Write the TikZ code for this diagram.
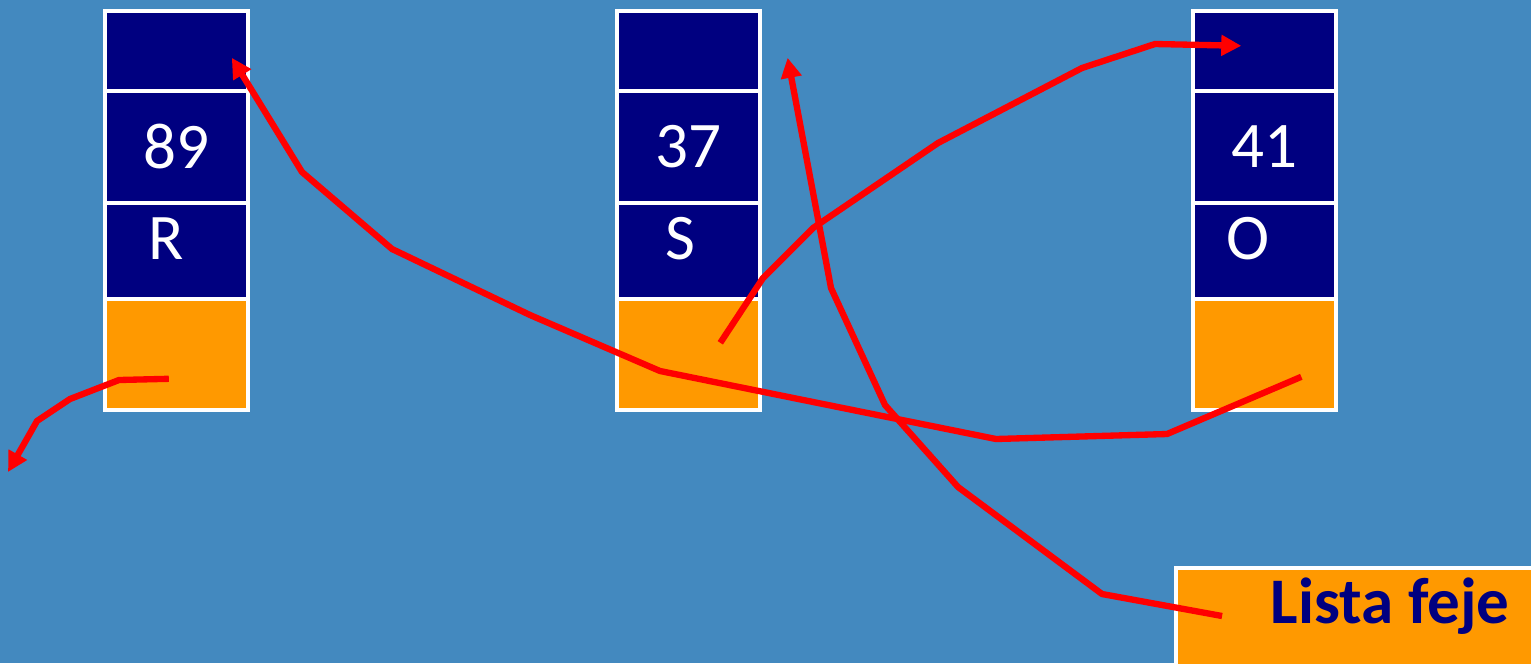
\documentclass[tikz,border=0pt]{standalone}
\usepackage{fontspec}
\setmainfont{Carlito}
\usetikzlibrary{arrows.meta}
\definecolor{bgblue}{RGB}{67,137,191}
\definecolor{cellnavy}{RGB}{0,0,128}
\definecolor{nextorange}{RGB}{255,153,0}
\definecolor{ptrred}{RGB}{255,0,0}
\tikzset{
  cell/.style={draw=white, line width=1pt, fill=cellnavy, anchor=north west,
    minimum width=1.43cm, inner sep=0pt, text=white,
    font=\fontsize{18.5pt}{22pt}\selectfont},
  ptr/.style={draw=ptrred, line width=1.8pt, line join=round,
    -{Triangle[length=2mm,width=2mm]}},
}

\begin{document}
\begin{tikzpicture}[x=0.01cm,y=-0.01cm]
\fill[bgblue] (0,0) rectangle (1531,663);
\useasboundingbox (0,0) rectangle (1531,663);
% records
\foreach \n/\x/\v/\k/\dx in {r/103/89/R/0.2, s/615/37/S/0.16, o/1191/41/O/0.32} {
  \node[cell, minimum height=0.8cm] (\n-top) at (\x,9) {};
  \node[cell, minimum height=1.12cm] (\n-val) at (\x,89) {\v};
  \node[cell, minimum height=0.96cm, text depth=0.24cm] (\n-key) at (\x,201) {\hspace*{-\dx cm}\k};
  \node[cell, fill=nextorange, minimum height=1.11cm] (\n-next) at (\x,297) {};
}
% list head
\draw[white, line width=1pt, fill=nextorange] (1176,568) rectangle (1560,690);
\node[text=cellnavy, font=\fontsize{18.5pt}{22pt}\selectfont\bfseries] (head) at (1390,606) {Lista feje};
\coordinate (nil) at (8,472);
% pointers
\draw[ptr] ([shift={(-7.5,24.5)}]r-next.center) -- (119,380) -- (70,399) -- (37,421) -- (nil);
\draw[ptr] ([shift={(37,22.5)}]o-next.center) -- (1167,434) -- (996,439) -- (660,371)
  -- (530,315) -- (392,249) -- (302,172) -- ([shift={(55.5,7)}]r-top.center);
\draw[ptr] ([shift={(32,-11.5)}]s-next.center) -- (763,278) -- (813,228) -- (938,143)
  -- (1082,68) -- (1155,44) -- ([shift={(-23,-5)}]o-top.center);
\draw[ptr] ([shift={(-36,10)}]head.west) -- (1102,594) -- (958,487) -- (885,405)
  -- (831,288) -- ([shift={(26,7)}]s-top.east);
\end{tikzpicture}
\end{document}
